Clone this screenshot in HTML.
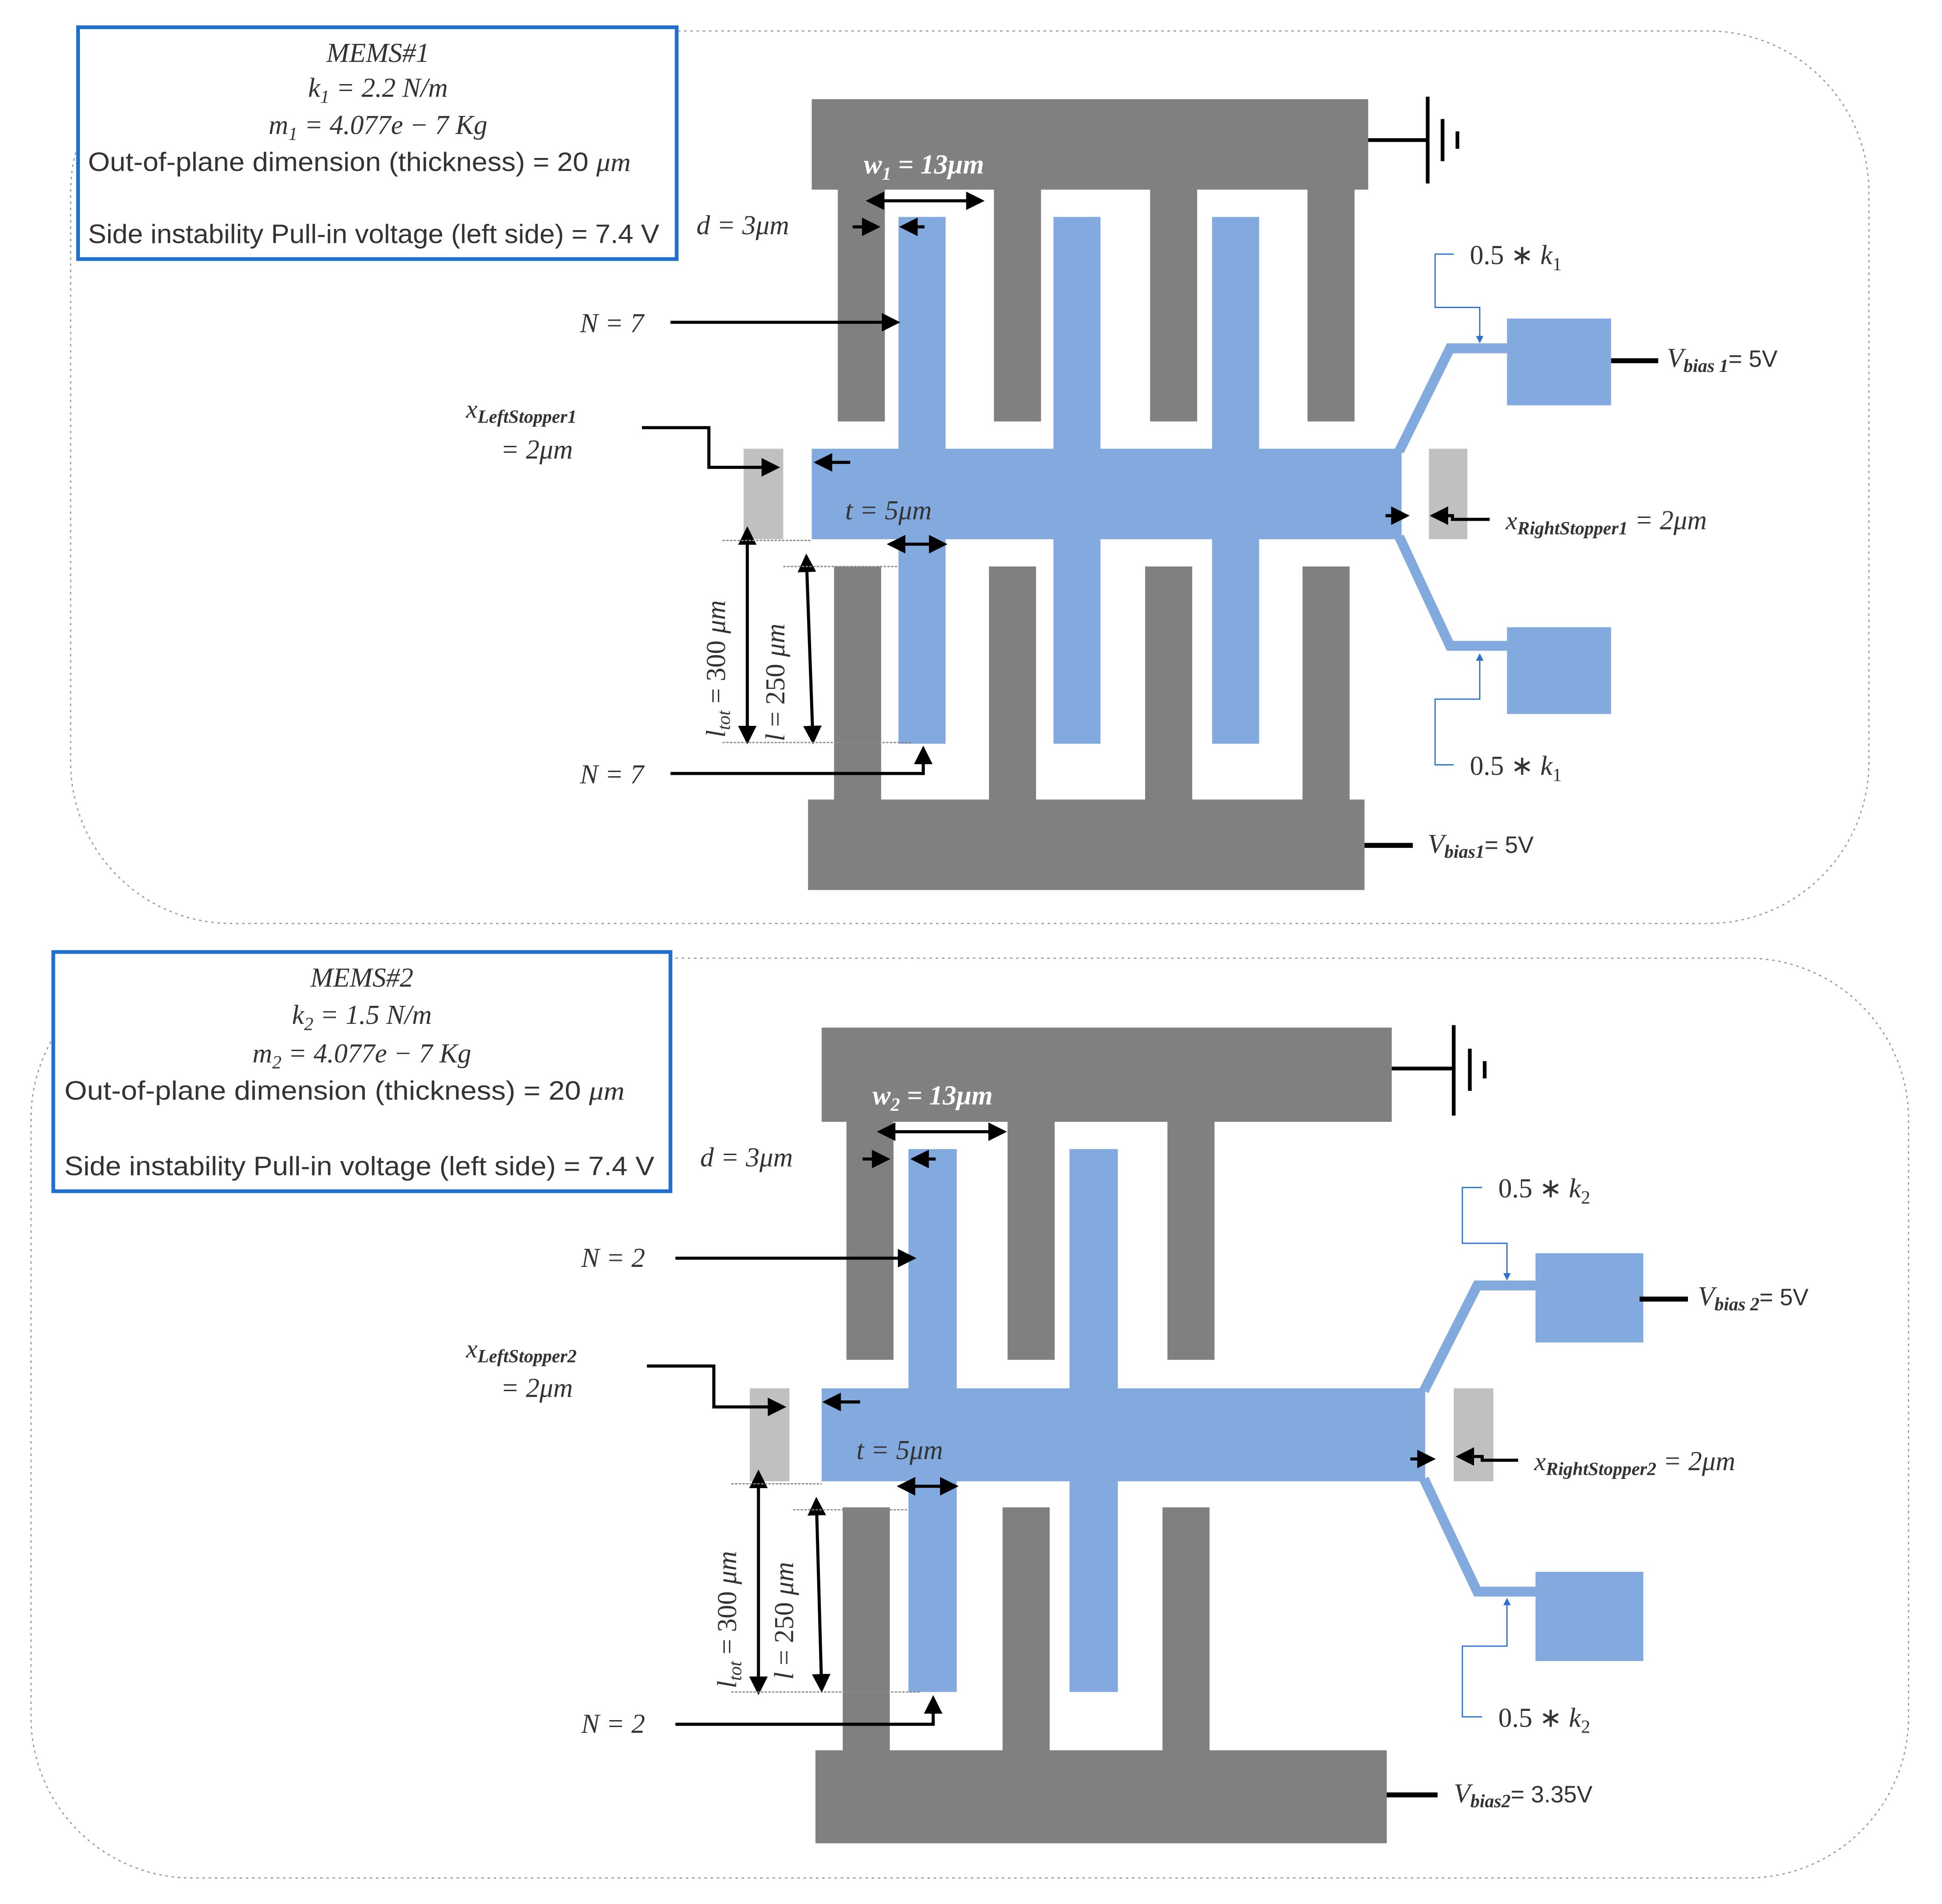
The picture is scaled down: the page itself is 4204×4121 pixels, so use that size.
<!DOCTYPE html>
<html><head><meta charset="utf-8"><style>
html,body{margin:0;padding:0;background:#fff;}
svg{display:block;}
text{font-family:"Liberation Serif",serif;fill:#333;}
.it{font-style:italic;}
.sans{font-family:"Liberation Sans",sans-serif;}
</style></head><body>
<svg width="4204" height="4121" viewBox="0 0 1567 1536" preserveAspectRatio="none" xmlns="http://www.w3.org/2000/svg">
<defs>
<marker id="ah" markerWidth="6" markerHeight="6" refX="5" refY="3" orient="auto" markerUnits="strokeWidth"><path d="M0,0 L6,3 L0,6 z" fill="#000"/></marker>
<marker id="ahs" markerWidth="6" markerHeight="6" refX="1" refY="3" orient="auto-start-reverse" markerUnits="strokeWidth"><path d="M0,0 L6,3 L0,6 z" fill="#000"/></marker>
<marker id="bh" markerWidth="6" markerHeight="6" refX="5" refY="3" orient="auto" markerUnits="strokeWidth"><path d="M0,0 L6,3 L0,6 z" fill="#2a70d0"/></marker>
</defs>

<!-- ================= MEMS 1 ================= -->
<rect x="57" y="25" width="1451" height="720" rx="130" ry="130" fill="none" stroke="#999" stroke-width="1" stroke-dasharray="2,3"/>
<rect x="63" y="22" width="483" height="187" fill="#fff" stroke="#1f6fd0" stroke-width="3"/>
<text x="305" y="50" text-anchor="middle" font-size="22" class="it">MEMS#1</text>
<text x="305" y="78" text-anchor="middle" font-size="22" class="it">k<tspan font-size="15" dy="5">1</tspan><tspan dy="-5"> = 2.2 N/m</tspan></text>
<text x="305" y="108" text-anchor="middle" font-size="22" class="it">m<tspan font-size="15" dy="5">1</tspan><tspan dy="-5"> = 4.077e − 7 Kg</tspan></text>
<text x="71" y="138" font-size="21.5" class="sans" textLength="438" lengthAdjust="spacingAndGlyphs">Out-of-plane dimension (thickness) = 20 <tspan class="it" font-family="Liberation Serif">μm</tspan></text>
<text x="71" y="196" font-size="21.5" class="sans" textLength="461" lengthAdjust="spacingAndGlyphs">Side instability Pull-in voltage (left side) = 7.4 V</text>

<g fill="#808080">
<rect x="655" y="80" width="449" height="73"/>
<rect x="676" y="152" width="38" height="188"/><rect x="802" y="152" width="38" height="188"/>
<rect x="928" y="152" width="38" height="188"/><rect x="1055" y="152" width="38" height="188"/>
<rect x="652" y="645" width="449" height="73"/>
<rect x="673" y="457" width="38" height="190"/><rect x="798" y="457" width="38" height="190"/>
<rect x="924" y="457" width="38" height="190"/><rect x="1051" y="457" width="38" height="190"/>
</g>
<g fill="#82aade">
<rect x="725" y="175" width="38" height="190"/><rect x="850" y="175" width="38" height="190"/><rect x="978" y="175" width="38" height="190"/>
<rect x="655" y="362" width="476" height="73"/>
<rect x="725" y="433" width="38" height="167"/><rect x="850" y="433" width="38" height="167"/><rect x="978" y="433" width="38" height="167"/>
<rect x="1216" y="257" width="84" height="70"/><rect x="1216" y="506" width="84" height="70"/>
</g>
<polyline points="1129,364 1170,281 1217,281" fill="none" stroke="#82aade" stroke-width="8"/>
<polyline points="1129,433 1170,521 1217,521" fill="none" stroke="#82aade" stroke-width="8"/>
<rect x="600" y="362" width="32" height="73" fill="#c0c0c0"/>
<rect x="1153" y="362" width="31" height="73" fill="#c0c0c0"/>
<g stroke="#000" stroke-width="3" fill="none">
<line x1="1104" y1="113" x2="1152" y2="113"/><line x1="1152" y1="78" x2="1152" y2="148"/>
<line x1="1164" y1="96" x2="1164" y2="130"/><line x1="1176" y1="106" x2="1176" y2="120"/>
<line x1="1300" y1="291" x2="1338" y2="291" stroke-width="4"/>
<line x1="1101" y1="682" x2="1140" y2="682" stroke-width="4"/>
</g>
<g stroke="#000" stroke-width="2.5" fill="none">
<line x1="711" y1="162" x2="792" y2="162" marker-start="url(#ahs)" marker-end="url(#ah)"/>
<line x1="688" y1="183" x2="708" y2="183" marker-end="url(#ah)"/>
<line x1="746" y1="183" x2="728" y2="183" marker-end="url(#ah)"/>
<line x1="541" y1="260" x2="724" y2="260" marker-end="url(#ah)"/>
<polyline points="518,345 572,345 572,377 627,377" marker-end="url(#ah)"/>
<line x1="686" y1="373" x2="659" y2="373" marker-end="url(#ah)"/>
<line x1="728" y1="439" x2="762" y2="439" marker-start="url(#ahs)" marker-end="url(#ah)"/>
<line x1="1118" y1="416" x2="1135" y2="416" marker-end="url(#ah)"/>
<polyline points="1202,419 1172,419 1172,416 1156,416" marker-end="url(#ah)"/>
<line x1="603" y1="437" x2="603" y2="598" marker-start="url(#ahs)" marker-end="url(#ah)"/>
<line x1="651" y1="459" x2="656" y2="598" marker-start="url(#ahs)" marker-end="url(#ah)"/>
<polyline points="541,624 745,624 745,604" marker-end="url(#ah)"/>
</g>
<g stroke="#888" stroke-width="1" stroke-dasharray="2,1">
<line x1="583" y1="436" x2="655" y2="436"/><line x1="632" y1="457" x2="725" y2="457"/>
<line x1="583" y1="599" x2="735" y2="599"/>
</g>
<g stroke="#2a70d0" stroke-width="1" fill="none">
<polyline points="1173,205 1158,205 1158,248 1194,248 1194,276" marker-end="url(#bh)"/>
<polyline points="1173,617 1158,617 1158,564 1194,564 1194,528" marker-end="url(#bh)"/>
</g>
<text x="697" y="140" font-size="22" class="it" style="fill:#fff;font-weight:bold">w<tspan font-size="15" dy="5">1</tspan><tspan dy="-5"> = 13μm</tspan></text>
<text x="562" y="189" font-size="22" class="it">d = 3μm</text>
<text x="468" y="268" font-size="22" class="it">N = 7</text>
<text x="468" y="632" font-size="22" class="it">N = 7</text>
<text x="376" y="337" font-size="21" class="it">x<tspan font-size="15" dy="4" font-weight="bold">LeftStopper1</tspan></text>
<text x="404" y="370" font-size="22" class="it">= 2μm</text>
<text x="682" y="419" font-size="22" class="it">t = 5μm</text>
<text x="1215" y="427" font-size="21" class="it">x<tspan font-size="15" dy="4" font-weight="bold">RightStopper1</tspan><tspan dy="-4" font-size="22"> = 2μm</tspan></text>
<text x="1186" y="213" font-size="22">0.5 ∗ <tspan class="it">k</tspan><tspan font-size="15" dy="5">1</tspan></text>
<text x="1186" y="625" font-size="22">0.5 ∗ <tspan class="it">k</tspan><tspan font-size="15" dy="5">1</tspan></text>
<text x="1345" y="296" font-size="22" class="it">V<tspan font-size="15" dy="4" font-weight="bold">bias 1</tspan><tspan dy="-4" class="sans" font-style="normal" font-size="19">= 5V</tspan></text>
<text x="1152" y="688" font-size="22" class="it">V<tspan font-size="15" dy="4" font-weight="bold">bias1</tspan><tspan dy="-4" class="sans" font-style="normal" font-size="19">= 5V</tspan></text>
<text transform="translate(585,595) rotate(-90)" font-size="22" class="it">l<tspan font-size="15" dy="4">tot</tspan><tspan dy="-4" font-style="normal"> = 300 </tspan>μm</text>
<text transform="translate(633,598) rotate(-90)" font-size="22" class="it">l<tspan font-style="normal"> = 250 </tspan>μm</text>

<!-- ================= MEMS 2 ================= -->
<rect x="25" y="773" width="1515" height="742" rx="130" ry="130" fill="none" stroke="#999" stroke-width="1" stroke-dasharray="2,3"/>
<rect x="43" y="768" width="498" height="193" fill="#fff" stroke="#1f6fd0" stroke-width="3"/>
<text x="292" y="796" text-anchor="middle" font-size="22" class="it">MEMS#2</text>
<text x="292" y="826" text-anchor="middle" font-size="22" class="it">k<tspan font-size="15" dy="5">2</tspan><tspan dy="-5"> = 1.5 N/m</tspan></text>
<text x="292" y="857" text-anchor="middle" font-size="22" class="it">m<tspan font-size="15" dy="5">2</tspan><tspan dy="-5"> = 4.077e − 7 Kg</tspan></text>
<text x="52" y="887" font-size="21.5" class="sans" textLength="452" lengthAdjust="spacingAndGlyphs">Out-of-plane dimension (thickness) = 20 <tspan class="it" font-family="Liberation Serif">μm</tspan></text>
<text x="52" y="948" font-size="21.5" class="sans" textLength="476" lengthAdjust="spacingAndGlyphs">Side instability Pull-in voltage (left side) = 7.4 V</text>

<g fill="#808080">
<rect x="663" y="829" width="460" height="76"/>
<rect x="683" y="903" width="38" height="194"/><rect x="813" y="903" width="38" height="194"/><rect x="942" y="903" width="38" height="194"/>
<rect x="658" y="1412" width="461" height="75"/>
<rect x="680" y="1216" width="38" height="198"/><rect x="809" y="1216" width="38" height="198"/><rect x="938" y="1216" width="38" height="198"/>
</g>
<g fill="#82aade">
<rect x="733" y="927" width="39" height="195"/><rect x="863" y="927" width="39" height="195"/>
<rect x="663" y="1120" width="487" height="75"/>
<rect x="733" y="1193" width="39" height="172"/><rect x="863" y="1193" width="39" height="172"/>
<rect x="1239" y="1011" width="87" height="72"/><rect x="1239" y="1268" width="87" height="72"/>
</g>
<polyline points="1149,1122 1192,1037 1240,1037" fill="none" stroke="#82aade" stroke-width="8"/>
<polyline points="1149,1193 1192,1284 1240,1284" fill="none" stroke="#82aade" stroke-width="8"/>
<rect x="605" y="1120" width="32" height="75" fill="#c0c0c0"/>
<rect x="1173" y="1120" width="32" height="75" fill="#c0c0c0"/>
<g stroke="#000" stroke-width="3" fill="none">
<line x1="1123" y1="862" x2="1173" y2="862"/><line x1="1173" y1="827" x2="1173" y2="900"/>
<line x1="1186" y1="846" x2="1186" y2="880"/><line x1="1198" y1="856" x2="1198" y2="870"/>
<line x1="1323" y1="1048" x2="1362" y2="1048" stroke-width="4"/>
<line x1="1119" y1="1448" x2="1160" y2="1448" stroke-width="4"/>
</g>
<g stroke="#000" stroke-width="2.5" fill="none">
<line x1="720" y1="913" x2="810" y2="913" marker-start="url(#ahs)" marker-end="url(#ah)"/>
<line x1="696" y1="935" x2="716" y2="935" marker-end="url(#ah)"/>
<line x1="755" y1="935" x2="737" y2="935" marker-end="url(#ah)"/>
<line x1="545" y1="1015" x2="737" y2="1015" marker-end="url(#ah)"/>
<polyline points="522,1102 576,1102 576,1135 632,1135" marker-end="url(#ah)"/>
<line x1="694" y1="1131" x2="666" y2="1131" marker-end="url(#ah)"/>
<line x1="736" y1="1199" x2="771" y2="1199" marker-start="url(#ahs)" marker-end="url(#ah)"/>
<line x1="1138" y1="1177" x2="1156" y2="1177" marker-end="url(#ah)"/>
<polyline points="1225,1178 1196,1178 1196,1175 1177,1175" marker-end="url(#ah)"/>
<line x1="612" y1="1198" x2="612" y2="1365" marker-start="url(#ahs)" marker-end="url(#ah)"/>
<line x1="659" y1="1220" x2="663" y2="1363" marker-start="url(#ahs)" marker-end="url(#ah)"/>
<polyline points="545,1391 753,1391 753,1370" marker-end="url(#ah)"/>
</g>
<g stroke="#888" stroke-width="1" stroke-dasharray="2,1">
<line x1="590" y1="1197" x2="663" y2="1197"/><line x1="640" y1="1218" x2="733" y2="1218"/>
<line x1="590" y1="1365" x2="742" y2="1365"/>
</g>
<g stroke="#2a70d0" stroke-width="1" fill="none">
<polyline points="1196,958 1180,958 1180,1003 1216,1003 1216,1032" marker-end="url(#bh)"/>
<polyline points="1196,1385 1180,1385 1180,1328 1216,1328 1216,1290" marker-end="url(#bh)"/>
</g>
<text x="704" y="891" font-size="22" class="it" style="fill:#fff;font-weight:bold">w<tspan font-size="15" dy="5">2</tspan><tspan dy="-5"> = 13μm</tspan></text>
<text x="565" y="941" font-size="22" class="it">d = 3μm</text>
<text x="469" y="1022" font-size="22" class="it">N = 2</text>
<text x="469" y="1398" font-size="22" class="it">N = 2</text>
<text x="376" y="1095" font-size="21" class="it">x<tspan font-size="15" dy="4" font-weight="bold">LeftStopper2</tspan></text>
<text x="404" y="1127" font-size="22" class="it">= 2μm</text>
<text x="691" y="1177" font-size="22" class="it">t = 5μm</text>
<text x="1238" y="1186" font-size="21" class="it">x<tspan font-size="15" dy="4" font-weight="bold">RightStopper2</tspan><tspan dy="-4" font-size="22"> = 2μm</tspan></text>
<text x="1209" y="966" font-size="22">0.5 ∗ <tspan class="it">k</tspan><tspan font-size="15" dy="5">2</tspan></text>
<text x="1209" y="1393" font-size="22">0.5 ∗ <tspan class="it">k</tspan><tspan font-size="15" dy="5">2</tspan></text>
<text x="1370" y="1053" font-size="22" class="it">V<tspan font-size="15" dy="4" font-weight="bold">bias 2</tspan><tspan dy="-4" class="sans" font-style="normal" font-size="19">= 5V</tspan></text>
<text x="1173" y="1454" font-size="22" class="it">V<tspan font-size="15" dy="4" font-weight="bold">bias2</tspan><tspan dy="-4" class="sans" font-style="normal" font-size="19">= 3.35V</tspan></text>
<text transform="translate(594,1362) rotate(-90)" font-size="22" class="it">l<tspan font-size="15" dy="4">tot</tspan><tspan dy="-4" font-style="normal"> = 300 </tspan>μm</text>
<text transform="translate(640,1355) rotate(-90)" font-size="22" class="it">l<tspan font-style="normal"> = 250 </tspan>μm</text>
</svg>
</body></html>
